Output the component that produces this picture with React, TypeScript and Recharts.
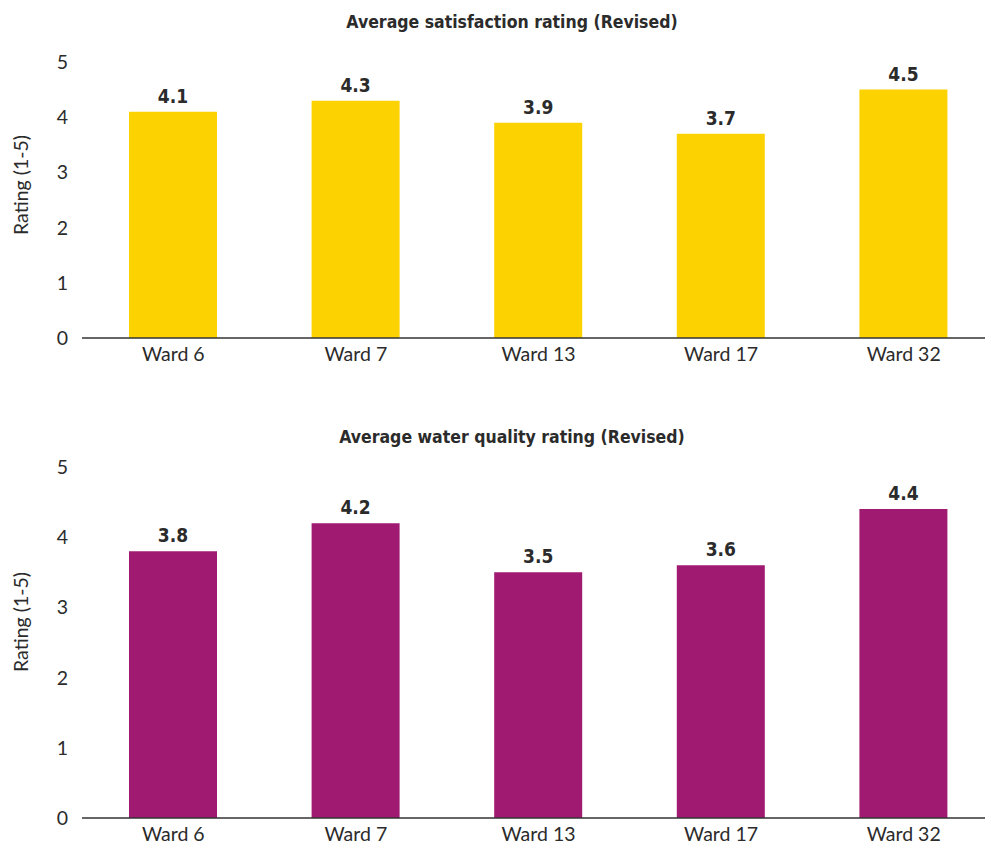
import { BarChart, Bar, XAxis, YAxis, LabelList, Label } from 'recharts';

const wards = ['Ward 6', 'Ward 7', 'Ward 13', 'Ward 17', 'Ward 32'];
const satisfaction = [4.1, 4.3, 3.9, 3.7, 4.5];
const waterQuality = [3.8, 4.2, 3.5, 3.6, 4.4];
const ratingTicks = [0, 1, 2, 3, 4, 5];

const YELLOW = '#FCD200';
const PURPLE = '#A01A72';
const INK = '#2b2b2b';
const TICK_FONT = "Lato, 'Open Sans', sans-serif";
const BOLD_FONT = "'Liberation Sans Narrow', 'DejaVu Sans Condensed', sans-serif";

const toRows = (values: number[]) => wards.map((ward, i) => ({ ward, value: values[i] }));

function AxisTitle({ cy }: { cy: number }) {
    return (
        <text
            x={20}
            y={cy}
            transform={`rotate(-90, 20, ${cy})`}
            textAnchor='middle'
            dominantBaseline='central'
            fill={INK}
            fontFamily={TICK_FONT}
            fontSize={19.5}
        >
            Rating (1-5)
        </text>
    );
}

function RatingPanel({ title, values, color, height, marginTop, labelY, titleTop }: {
    title: string; values: number[]; color: string; height: number; marginTop: number; labelY: number; titleTop: number;
}) {
    return (
        <div style={{ position: 'relative', width: 995, height }}>
            <div style={{
                position: 'absolute', left: 0, width: 1024, top: titleTop, textAlign: 'center',
                fontFamily: BOLD_FONT, fontWeight: 700, fontSize: 17.5, color: INK,
            }}>
                {title}
            </div>
            <BarChart
                width={995}
                height={height}
                data={toRows(values)}
                margin={{ top: marginTop, right: 0, bottom: 0, left: 0 }}
                barSize={88}
            >
                <XAxis
                    dataKey='ward'
                    height={40}
                    tickLine={false}
                    tickSize={0}
                    tickMargin={9}
                    axisLine={{ stroke: '#333', strokeWidth: 1.5 }}
                    tick={{ fill: INK, fontSize: 19.5, fontFamily: TICK_FONT }}
                />
                <YAxis
                    width={82}
                    domain={[0, 5]}
                    ticks={ratingTicks}
                    axisLine={false}
                    tickLine={false}
                    tickSize={0}
                    tickMargin={14}
                    tick={{ fill: INK, fontSize: 19.5, fontFamily: TICK_FONT }}
                >
                    <Label content={() => <AxisTitle cy={labelY} />} />
                </YAxis>
                <Bar dataKey='value' fill={color} isAnimationActive={false}>
                    <LabelList
                        dataKey='value'
                        position='top'
                        offset={9}
                        fill={INK}
                        fontSize={19}
                        fontWeight={700}
                        fontFamily={BOLD_FONT}
                    />
                </Bar>
            </BarChart>
        </div>
    );
}

export default function App() {
    return (
        <div style={{ position: 'absolute', left: 0, top: 0, width: 985, height: 846, overflow: 'hidden', background: '#fff' }}>
            <div style={{ position: 'absolute', left: 0, top: 10 }}>
                <RatingPanel
                    title='Average satisfaction rating (Revised)'
                    values={satisfaction}
                    color={YELLOW}
                    height={368}
                    marginTop={52}
                    labelY={175}
                    titleTop={2}
                />
            </div>
            <div style={{ position: 'absolute', left: 0, top: 426 }}>
                <RatingPanel
                    title='Average water quality rating (Revised)'
                    values={waterQuality}
                    color={PURPLE}
                    height={432}
                    marginTop={41}
                    labelY={196}
                    titleTop={1}
                />
            </div>
        </div>
    );
}
